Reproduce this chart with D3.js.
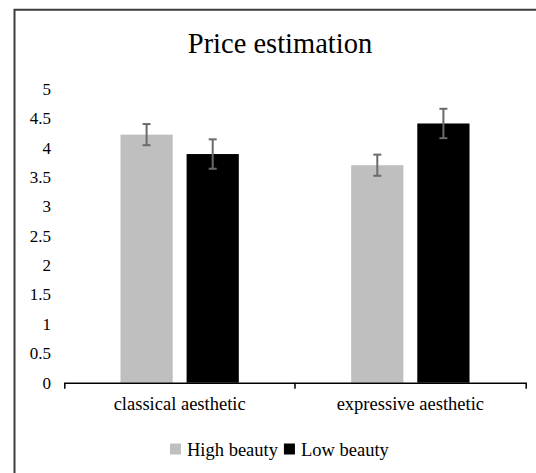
<!DOCTYPE html>
<html>
<head>
<meta charset="utf-8">
<script src="https://cdn.jsdelivr.net/npm/d3@7"></script>
<style>
  html, body { margin: 0; padding: 0; background: #fff; }
  svg { display: block; }
  svg text { font-family: "Liberation Serif", "Times New Roman", serif; fill: #000; }
</style>
</head>
<body>
<svg id="chart" width="536" height="473"></svg>
<script>
// Mean price estimates with standard-error bars
const categories = ["classical aesthetic", "expressive aesthetic"];
const seriesNames = ["High beauty", "Low beauty"];
const highBeauty = [4.22, 3.70];
const lowBeauty = [3.89, 4.41];
const highBeautyErr = [0.18, 0.18];
const lowBeautyErr = [0.25, 0.25];
const yTickValues = [0, 0.5, 1, 1.5, 2, 2.5, 3, 3.5, 4, 4.5, 5];
const seriesColors = ["#bfbfbf", "#000000"];

const values = [highBeauty, lowBeauty];
const errors = [highBeautyErr, lowBeautyErr];
const rows = [];
categories.forEach((c, ci) => {
  seriesNames.forEach((s, si) => {
    rows.push({ category: c, series: s, value: values[si][ci], err: errors[si][ci] });
  });
});

const serif = '"Liberation Serif", "Times New Roman", serif';
const svg = d3.select("#chart");

// Chart-area frame (left and top edges are inside the view)
svg.append("path")
  .attr("d", "M14.5,473V9.8H536")
  .attr("fill", "none")
  .attr("stroke", "#3c3c3c")
  .attr("stroke-width", 2);

const plot = { left: 64.3, right: 525.7, top: 88.8, bottom: 382.7 };

const x0 = d3.scaleBand().domain(categories).range([plot.left, plot.right]).padding(0);
const x1 = d3.scaleBand().domain(seriesNames).range([0, x0.bandwidth()])
  .paddingInner(0.21).paddingOuter(0.85);
const y = d3.scaleLinear().domain([0, 5]).range([plot.bottom, plot.top]);
const color = d3.scaleOrdinal().domain(seriesNames).range(seriesColors);

// Title
svg.append("text")
  .attr("x", 280).attr("y", 53)
  .attr("text-anchor", "middle")
  .style("font-family", serif)
  .style("font-size", "28.5px")
  .text("Price estimation");

// Bars
svg.append("g").selectAll("rect")
  .data(rows)
  .join("rect")
  .attr("x", d => x0(d.category) + x1(d.series))
  .attr("y", d => y(d.value))
  .attr("width", x1.bandwidth())
  .attr("height", d => y(0) - y(d.value))
  .attr("fill", d => color(d.series));

// Error bars
const eb = svg.append("g")
  .attr("stroke", "#6a6a6a")
  .attr("stroke-width", 2)
  .attr("fill", "none");
const cap = 4;
rows.forEach(d => {
  const cx = x0(d.category) + x1(d.series) + x1.bandwidth() / 2;
  const y1 = y(d.value + d.err), y2 = y(d.value - d.err);
  eb.append("line").attr("x1", cx).attr("x2", cx).attr("y1", y1).attr("y2", y2);
  eb.append("line").attr("x1", cx - cap).attr("x2", cx + cap).attr("y1", y1).attr("y2", y1);
  eb.append("line").attr("x1", cx - cap).attr("x2", cx + cap).attr("y1", y2).attr("y2", y2);
});

// Y axis labels (no axis line)
const yAxis = svg.append("g")
  .attr("transform", "translate(54,0)")
  .call(d3.axisLeft(y).tickValues(yTickValues).tickSize(0).tickPadding(3).tickFormat(d3.format("")));
yAxis.select(".domain").remove();
yAxis.attr("font-family", null).attr("font-size", null);
yAxis.selectAll("text")
  .style("font-family", serif)
  .style("font-size", "17px")
  .attr("fill", "#000");

// X axis with ticks on category boundaries
const xAxis = svg.append("g")
  .attr("transform", `translate(0,${plot.bottom})`)
  .call(d3.axisBottom(x0).tickSize(0).tickSizeOuter(6).tickPadding(14));
xAxis.attr("font-family", null).attr("font-size", null);
xAxis.select(".domain").attr("stroke", "#000").attr("stroke-width", 1.5);
xAxis.selectAll("text")
  .style("font-family", serif)
  .style("font-size", "18.5px")
  .attr("fill", "#000");
categories.slice(1).forEach(c => {
  xAxis.append("line")
    .attr("x1", x0(c)).attr("x2", x0(c))
    .attr("y1", 0).attr("y2", 6)
    .attr("stroke", "#000").attr("stroke-width", 1.5);
});

// Legend
const legend = svg.append("g").attr("transform", "translate(170,443.5)");
let lx = 0;
seriesNames.forEach(s => {
  const item = legend.append("g").attr("transform", `translate(${lx},0)`);
  item.append("rect").attr("width", 11).attr("height", 11).attr("fill", color(s));
  const t = item.append("text")
    .attr("x", 17).attr("y", 12)
    .style("font-family", serif)
    .style("font-size", "18.5px")
    .text(s);
  lx += 17 + t.node().getComputedTextLength() + 6;
});
</script>
</body>
</html>
